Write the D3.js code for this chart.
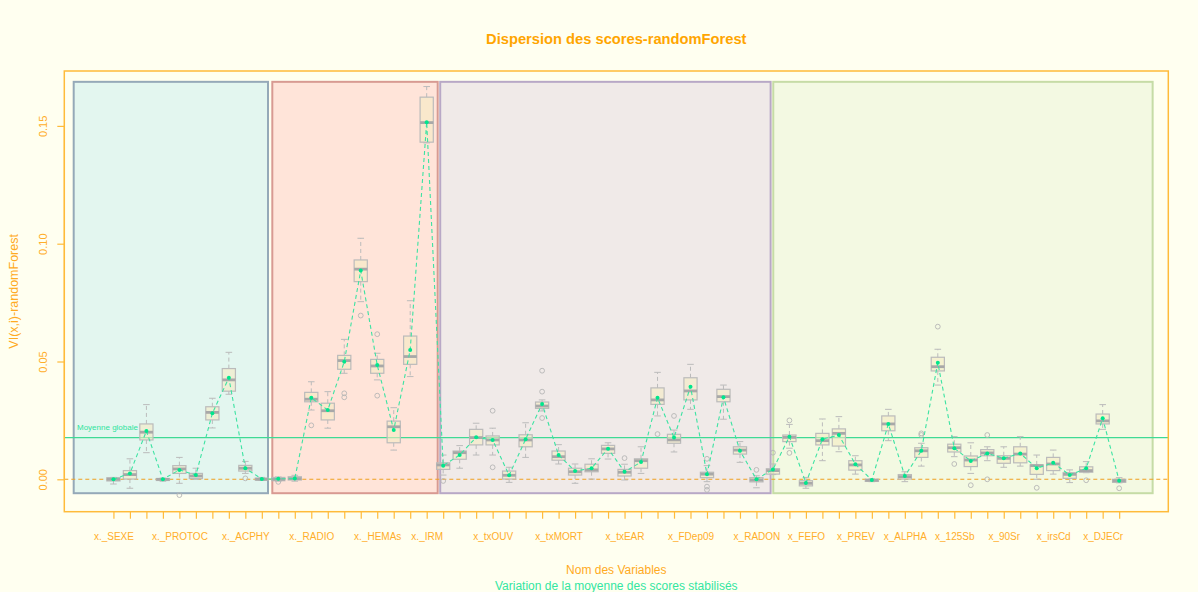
<!DOCTYPE html>
<html><head><meta charset="utf-8">
<script src="https://cdn.jsdelivr.net/npm/d3@7"></script>
<style>body{margin:0;background:#FFFFF0}</style>
</head><body><svg id="c" width="1198" height="592"></svg>
<script>
// ---- data ----
const labels = ["x._SEXE","","","","x._PROTOC","","","","x._ACPHY","","","","x._RADIO","","","","x._HEMAs","","","x._IRM",
"","","","x_txOUV","","","","x_txMORT","","","","x_txEAR","","","","x_FDep09","","","","x_RADON",
"","","x_FEFO","","","x_PREV","","","x_ALPHA","","","x_125Sb","","","x_90Sr","","","x_irsCd","","","x_DJECr",""];
const whiskerLow = [-0.002,-0.0038,0.0113,-0.0008,-0.0017,0,0.0218,0.0361,0.0025,-0.0005,
-0.0008,-0.0008,0.0294,0.0217,0.045,0.0754,0.0422,0.0124,0.0436,0.1428,
0.0018,0.0047,0.0103,0.0103,-0.0013,0.0093,0.029,0.0065,-0.0017,0.0001,0.0086,-0.0003,0.0025,0.0269,0.0116,0.0297,-0.001,0.0255,0.0072,-0.0036,
0.002,0.0132,-0.0038,0.0079,0.0117,0.0022,-0.001,0.0164,-0.001,0.0056,0.04,0.0096,0.0025,0.0079,0.0051,0.0056,0,0.0022,-0.0014,0.0028,0.0212,-0.0015];
const q1 = [-0.0007,0.0001,0.0167,-0.0005,0.0025,0.0003,0.0252,0.0374,0.0035,-0.0003,
-0.0006,-0.0003,0.0329,0.0252,0.0467,0.0839,0.045,0.0155,0.0488,0.1431,
0.0042,0.0085,0.0146,0.0146,0.0001,0.0138,0.0301,0.0081,0.0018,0.0032,0.011,0.0014,0.0047,0.0318,0.0153,0.0337,0.0007,0.0329,0.0107,-0.0011,
0.0022,0.016,-0.0028,0.0146,0.0141,0.0039,-0.0009,0.0206,0.0001,0.0093,0.046,0.0116,0.0054,0.01,0.0068,0.007,0.0021,0.0037,0.0004,0.003,0.0235,-0.0013];
const median = [0,0.002,0.02,0,0.0044,0.0014,0.0284,0.0422,0.0047,0,
0,0.0003,0.034,0.0291,0.0504,0.0892,0.0481,0.0223,0.0521,0.1514,
0.0061,0.0113,0.0177,0.0167,0.0017,0.0167,0.0311,0.0096,0.0032,0.004,0.0129,0.003,0.0079,0.0337,0.0167,0.0375,0.0022,0.0351,0.0124,-0.0003,
0.0037,0.0178,-0.0017,0.0164,0.0195,0.0061,-0.0004,0.0235,0.0011,0.0121,0.0478,0.0134,0.0082,0.0112,0.0089,0.0107,0.0058,0.0065,0.0021,0.0037,0.0248,-0.0006];
const q3 = [0.0007,0.0037,0.0235,0.0003,0.0058,0.0025,0.0308,0.047,0.0059,0.0005,
0.0008,0.0011,0.0369,0.0323,0.0526,0.0931,0.0509,0.0247,0.0608,0.1622,
0.007,0.012,0.0212,0.0184,0.0035,0.0189,0.0328,0.012,0.0047,0.0064,0.0144,0.0042,0.0087,0.0388,0.0191,0.0431,0.003,0.0382,0.0138,0.0007,
0.0045,0.0188,-0.0006,0.0195,0.0214,0.0079,0,0.0269,0.002,0.0134,0.0518,0.0149,0.0099,0.0126,0.01,0.0138,0.0061,0.0093,0.0028,0.0053,0.0277,0];
const whiskerHigh = [0.0008,0.0087,0.0317,0.0005,0.0093,0.0047,0.0344,0.0539,0.0076,0.0008,
0.001,0.0017,0.0414,0.0372,0.0594,0.1023,0.0535,0.0304,0.0758,0.1667,
0.0103,0.0143,0.0238,0.0217,0.0051,0.024,0.0337,0.0147,0.0065,0.0087,0.0155,0.0064,0.0138,0.0454,0.0209,0.0488,0.0058,0.04,0.016,0.0015,
0.0065,0.0233,0.0008,0.0256,0.0266,0.01,0.0002,0.0297,0.0032,0.0153,0.0552,0.0181,0.0155,0.0138,0.0138,0.0181,0.0103,0.0124,0.004,0.0075,0.0317,0.0007];
const means = [0,0.0025,0.0205,0,0.004,0.0018,0.028,0.0431,0.0047,0.0001,
0.0002,0.0003,0.0346,0.0294,0.0499,0.0886,0.0485,0.0209,0.0549,0.1516,
0.0058,0.0103,0.0178,0.0167,0.0017,0.017,0.032,0.0103,0.0035,0.0047,0.013,0.0032,0.0073,0.0346,0.0177,0.0393,0.0021,0.0348,0.0121,0,
0.0042,0.0181,-0.0016,0.017,0.0188,0.0064,-0.0003,0.0235,0.0014,0.0121,0.0495,0.0132,0.0078,0.011,0.0089,0.011,0.0047,0.007,0.0018,0.0047,0.0259,-0.0006];
// outliers: [variable index (1-based), value]
const outliers = [[5,-0.0067],[9,0.0004],[11,-0.0011],[13,0.0229],[15,0.0365],[15,0.0348],[16,0.0695],[17,0.0616],[17,0.0355],
[21,-0.0007],[24,0.0291],[24,0.0051],[27,0.0461],[27,0.0372],[27,0.026],[32,0.009],[34,0.0192],[35,0.0269],
[37,0.0087],[37,-0.0031],[37,-0.0045],[40,0.004],[41,0.0113],[42,0.025],[42,0.0112],[50,0.0195],[50,0.0188],
[51,0.0648],[52,0.0065],[53,-0.0025],[54,0.0188],[54,0],[57,-0.0036],[60,-0.0004],[62,-0.0038]];
const globalMean = 0.01766;
const yTicks = [0, 0.05, 0.10, 0.15];
// variable groups (extent in variable-index units)
const groupFrom = [-1.41, 10.636, 20.82, 41.02];
const groupTo = [10.375, 20.667, 40.86, 64.03];
const groupBottom = -0.0059, groupTop = 0.1687;

// ---- drawing ----
const svg = d3.select("#c");
const FONT = "'Liberation Sans', Arial, sans-serif";
const n = labels.length;
const x = d3.scaleLinear().domain([0.5 - 0.04*n, n + 0.5 + 0.04*n]).range([64.3, 1168.3]);
const y = d3.scaleLinear().domain([-0.01375, 0.1733]).range([511.7, 71]);
const ORANGE = "#FFA500", AX = "#FFBB3A";

svg.append("rect").attr("width",1198).attr("height",592).attr("fill","#FFFFF0");

const gFill = ["#E3F6EF","#FFE4D9","#F0EAE8","#F3F9E2"];
const gStroke = ["#95A9B8","#D89A92","#B8A8C6","#C6DCA6"];
svg.append("g").selectAll("rect").data(groupFrom).join("rect")
  .attr("x", (d,i)=>x(d)).attr("width",(d,i)=>x(groupTo[i])-x(d))
  .attr("y", y(groupTop)).attr("height", y(groupBottom)-y(groupTop))
  .attr("fill",(d,i)=>gFill[i]).attr("stroke",(d,i)=>gStroke[i]).attr("stroke-width",2);

// global mean line + label
svg.append("line").attr("x1",x.range()[0]).attr("x2",x.range()[1])
  .attr("y1",y(globalMean)).attr("y2",y(globalMean))
  .attr("stroke","#3FDA95").attr("stroke-width",1.2);
svg.append("text").attr("x",77).attr("y",y(globalMean)-7.5).text("Moyenne globale")
  .attr("font-family",FONT).attr("font-size",8).attr("fill","#2EE49C");
// zero dashed line
svg.append("line").attr("x1",x.range()[0]).attr("x2",x.range()[1])
  .attr("y1",y(0)).attr("y2",y(0))
  .attr("stroke","#F0A020").attr("stroke-width",1.1).attr("stroke-dasharray","4,3");

// boxes
const idx = d3.range(n);
const bw = 0.4, cw = 0.2;
const gb = svg.append("g");
const GRAY = "#BBBBBB";
idx.forEach(i=>{
  const cx = x(i+1);
  const g = gb.append("g");
  g.append("line").attr("x1",cx).attr("x2",cx).attr("y1",y(q3[i])).attr("y2",y(whiskerHigh[i]))
    .attr("stroke",GRAY).attr("stroke-dasharray","4,3");
  g.append("line").attr("x1",cx).attr("x2",cx).attr("y1",y(q1[i])).attr("y2",y(whiskerLow[i]))
    .attr("stroke",GRAY).attr("stroke-dasharray","4,3");
  [whiskerHigh[i], whiskerLow[i]].forEach(v=>{
    g.append("line").attr("x1",x(i+1-cw)).attr("x2",x(i+1+cw)).attr("y1",y(v)).attr("y2",y(v))
      .attr("stroke",GRAY);
  });
  g.append("rect").attr("x",x(i+1-bw)).attr("width",x(i+1+bw)-x(i+1-bw))
    .attr("y",y(q3[i])).attr("height",Math.max(0.5,y(q1[i])-y(q3[i])))
    .attr("fill","rgba(245,235,195,0.6)").attr("stroke",GRAY).attr("stroke-width",1.2);
  g.append("line").attr("x1",x(i+1-bw)).attr("x2",x(i+1+bw)).attr("y1",y(median[i])).attr("y2",y(median[i]))
    .attr("stroke","#A8A8A8").attr("stroke-width",2.8);
});
gb.append("g").selectAll("circle").data(outliers).join("circle")
  .attr("cx",d=>x(d[0])).attr("cy",d=>y(d[1])).attr("r",2.4)
  .attr("fill","none").attr("stroke","#B5B5B5").attr("stroke-width",0.9);

// means
svg.append("path").datum(means)
  .attr("d", d3.line().x((d,i)=>x(i+1)).y(d=>y(d)))
  .attr("fill","none").attr("stroke","#3CE3A2").attr("stroke-width",1.1).attr("stroke-dasharray","4,3");
svg.append("g").selectAll("circle").data(means).join("circle")
  .attr("cx",(d,i)=>x(i+1)).attr("cy",d=>y(d)).attr("r",2)
  .attr("fill","#00E68C");

// frame
svg.append("rect").attr("x",x.range()[0]).attr("y",y.range()[1])
  .attr("width",x.range()[1]-x.range()[0]).attr("height",y.range()[0]-y.range()[1])
  .attr("fill","none").attr("stroke",AX).attr("stroke-width",1.5);

// x axis
const xa = svg.append("g").attr("transform",`translate(0,${y.range()[0]})`)
  .call(d3.axisBottom(x).tickValues(d3.range(1,n+1)).tickFormat(d=>labels[d-1]).tickSize(7).tickPadding(14));
xa.select(".domain").remove();
xa.selectAll("line").attr("stroke",AX).attr("stroke-width",1.2);
xa.selectAll("text").attr("fill","#FFAE2A").attr("font-family",FONT).attr("font-size",10);

// y axis
const ya = svg.append("g").attr("transform",`translate(${x.range()[0]},0)`)
  .call(d3.axisLeft(y).tickValues(yTicks).tickFormat(d3.format(".2f")).tickSize(7));
ya.select(".domain").attr("d",`M0,${y(0)}V${y(0.15)}`).attr("stroke",AX);
ya.selectAll("line").attr("stroke",AX).attr("stroke-width",1.2);
ya.selectAll("text").attr("transform","rotate(-90)").attr("x",0).attr("y",-21.3).attr("dy","0.35em")
  .style("text-anchor","middle").attr("fill","#FFAE2A").attr("font-family",FONT).attr("font-size",11);

// titles
svg.append("text").attr("x",616.3).attr("y",43.5).attr("text-anchor","middle")
  .attr("font-family",FONT).attr("font-weight","bold").attr("font-size",14.7).attr("fill",ORANGE)
  .text("Dispersion des scores-randomForest");
svg.append("text").attr("x",616.3).attr("y",573.5).attr("text-anchor","middle")
  .attr("font-family",FONT).attr("font-size",12).attr("fill","#FFAA22").text("Nom des Variables");
svg.append("text").attr("x",616.3).attr("y",589.5).attr("text-anchor","middle")
  .attr("font-family",FONT).attr("font-size",12).attr("fill","#33E6A0").text("Variation de la moyenne des scores stabilisés");
svg.append("text").attr("transform",`translate(17.5,${(y.range()[0]+y.range()[1])/2}) rotate(-90)`)
  .attr("text-anchor","middle").attr("font-family",FONT).attr("font-size",12.5).attr("fill","#FFAA22")
  .text("VI(x,i)-randomForest");
</script></body></html>
